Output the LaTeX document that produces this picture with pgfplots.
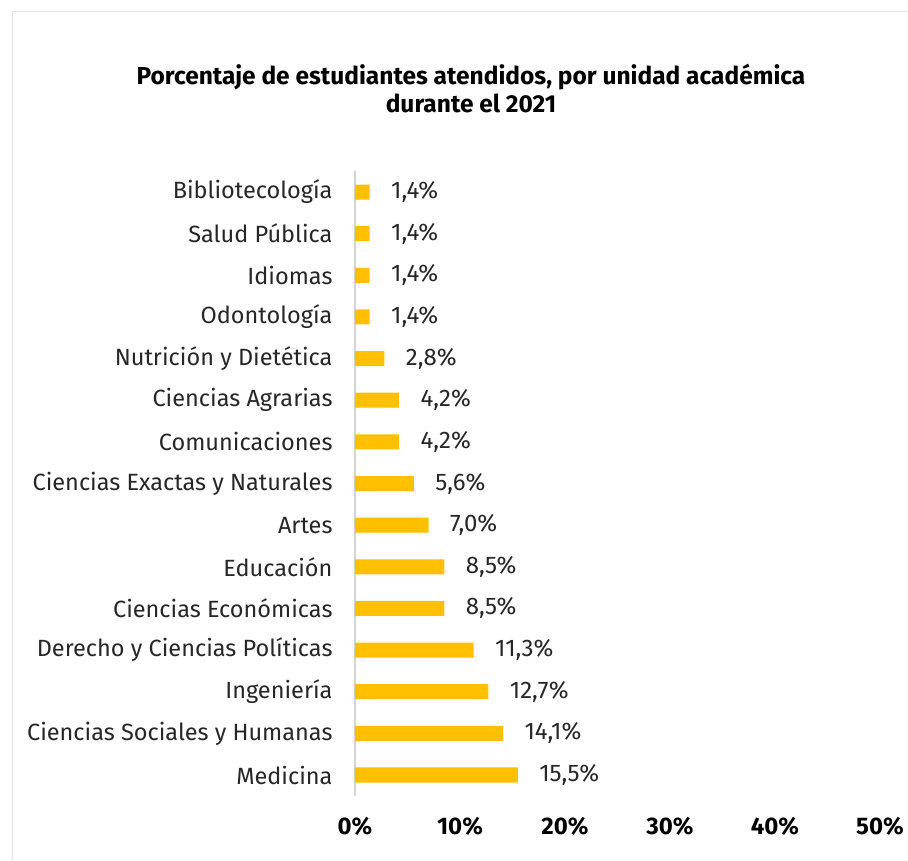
\documentclass[border=0pt]{standalone}
\usepackage{pgfplots}
\pgfplotsset{compat=1.18}
\usepackage{fontspec}
\setmainfont{Fira Sans}
\definecolor{bargold}{HTML}{FFC000}
\definecolor{txt}{HTML}{262626}
\begin{document}
\begin{tikzpicture}[x=1pt,y=1pt]
\useasboundingbox (0,0) rectangle (908,860);
\draw[color=black!10, line width=1pt] (12,848) rectangle (930,-20);
\node[font=\bfseries\fontsize{24.5}{28}\selectfont, align=center, text=black] at (471,772) {Porcentaje de estudiantes atendidos, por unidad académica\\durante el 2021};
\begin{axis}[
  x=10.5pt, y=41.64pt,
  anchor=origin, at={(355pt,85pt)},
  xmin=0, xmax=50, ymin=-0.5, ymax=14.5,
  xbar, bar width=15pt,
  axis lines*=left,
  x axis line style={draw=none},
  y axis line style={draw=black!17, line width=1.5pt},
  major tick length=0pt,
  xtick={0,10,20,30,40,50},
  xticklabel={\pgfmathprintnumber{\tick}\%},
  /pgf/number format/assume math mode=true,
  xticklabel style={font=\bfseries\fontsize{24}{28}\selectfont, text=black, yshift=-18pt},
  ytick={0,...,14},
  yticklabels={Medicina,Ciencias Sociales y Humanas,Ingeniería,Derecho y Ciencias Políticas,Ciencias Económicas,Educación,Artes,Ciencias Exactas y Naturales,Comunicaciones,Ciencias Agrarias,Nutrición y Dietética,Odontología,Idiomas,Salud Pública,Bibliotecología},
  yticklabel style={font=\fontsize{23.5}{27}\selectfont, text=txt, xshift=-19pt},
  clip=false,
  nodes near coords={\pgfmathprintnumber[fixed,fixed zerofill,precision=1,use comma]{\pgfplotspointmeta}\%},
  nodes near coords style={font=\fontsize{24}{27}\selectfont, text=txt, anchor=west, xshift=18pt},
]
\addplot[draw=none, fill=bargold] coordinates {
(15.5,0) (14.1,1) (12.7,2) (11.3,3) (8.5,4) (8.5,5) (7.0,6) (5.6,7) (4.2,8) (4.2,9) (2.8,10) (1.4,11) (1.4,12) (1.4,13) (1.4,14)
};
\end{axis}
\end{tikzpicture}
\end{document}
